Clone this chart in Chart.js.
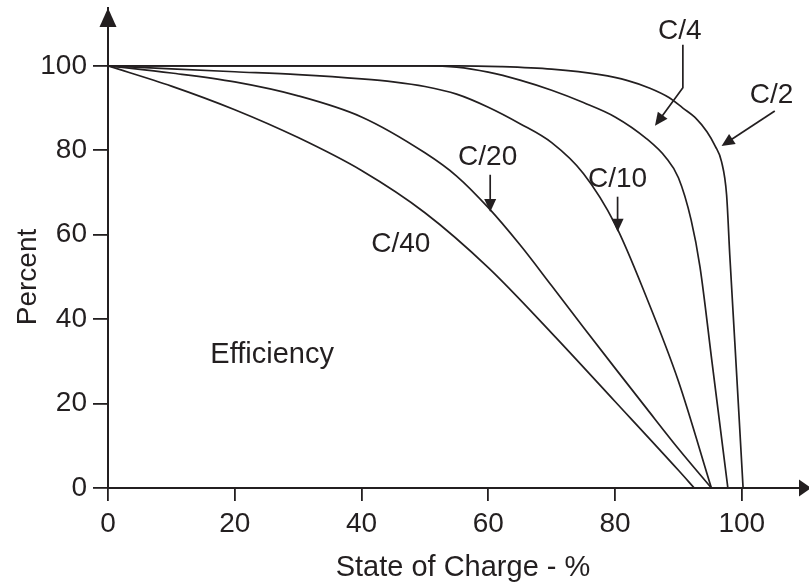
<!DOCTYPE html>
<html>
<head>
<meta charset="utf-8">
<script src="https://cdn.jsdelivr.net/npm/chart.js@4.4.0/dist/chart.umd.min.js"></script>
<style>
  html, body { margin: 0; padding: 0; background: #fff; }
  #wrap { width: 809px; height: 585px; }
</style>
</head>
<body>
<div id="wrap"><canvas id="effChart" width="809" height="585"></canvas></div>
<script>
// Charge efficiency vs state of charge, per charge rate
const c40X = [0, 10, 20, 30, 40, 50, 60, 70, 80, 90, 92.5];
const c40Y = [100, 95.2, 89.6, 83.0, 75.2, 65.2, 52.2, 36.7, 20.5, 4.2, 0];

const c20X = [0, 10, 20, 30, 40, 50, 55, 60, 65, 70, 75, 80, 85, 90, 95.2];
const c20Y = [100, 98.3, 96.2, 92.9, 87.9, 79.4, 73.9, 66.4, 57.6, 47.9, 38.1, 28.4, 18.8, 9.3, 0];

const c10X = [0, 10, 20, 30, 40, 45, 50, 55, 60, 65, 70, 75, 80, 85, 90, 95.2];
const c10Y = [100, 99.3, 98.6, 97.9, 96.9, 96.2, 95.1, 93.3, 90.2, 86.3, 81.8, 74.5, 62.5, 45, 25.3, 0];

const c4X = [0, 20, 40, 50, 55, 60, 65, 70, 75, 80, 85, 88, 90, 92, 93.4, 95.3, 97.8];
const c4Y = [100, 100, 100, 100, 99.7, 98.5, 96.6, 94.2, 91.3, 87.9, 82.7, 78.3, 73.5, 63.5, 52.4, 29.8, 0];

const c2X = [0, 20, 40, 55, 62, 70, 77.6, 82, 85.5, 88.5, 90.7, 92.8, 94.5, 95.8, 96.8, 97.6, 98.1, 98.9, 99.6, 100.2];
const c2Y = [100, 100, 100, 100, 99.8, 99.2, 97.9, 96.5, 94.7, 92.5, 90, 87.5, 84.4, 81, 77.3, 69.4, 55.2, 34.4, 16, 0];

const xTicks = [0, 20, 40, 60, 80, 100];
const yTicks = [0, 20, 40, 60, 80, 100];

// curve labels (data coords)
const curveLabels = [
    { text: 'C/4', x: 90.2, y: 108.1 },
    { text: 'C/2', x: 104.7, y: 93.1 },
    { text: 'C/20', x: 59.9, y: 78.4 },
    { text: 'C/10', x: 80.4, y: 73.2 },
    { text: 'C/40', x: 46.2, y: 57.8 },
    { text: 'Efficiency', x: 25.9, y: 31.5 }
];

// pointer arrows (data coords, last point is the tip)
const pointers = [
    [[90.7, 105], [90.7, 94.8], [86.3, 85.8]],
    [[105.2, 89.3], [96.8, 81]],
    [[60.3, 74.2], [60.3, 65.4]],
    [[80.4, 69], [80.4, 60.7]]
];

const ink = '#231f20';
const FONT = 'Liberation Sans, Arial, Helvetica, sans-serif';

function toPts(xs, ys) {
    return xs.map((x, i) => ({ x: x, y: ys[i] }));
}

function curve(label, xs, ys) {
    return {
        label: label,
        data: toPts(xs, ys),
        showLine: true,
        borderColor: ink,
        borderWidth: 1.7,
        pointRadius: 0,
        cubicInterpolationMode: 'monotone',
        fill: false
    };
}

function arrowHead(ctx, fx, fy, tx, ty, len, half) {
    const a = Math.atan2(ty - fy, tx - fx);
    ctx.beginPath();
    ctx.moveTo(tx, ty);
    ctx.lineTo(tx - len * Math.cos(a) + half * Math.sin(a), ty - len * Math.sin(a) - half * Math.cos(a));
    ctx.lineTo(tx - len * Math.cos(a) - half * Math.sin(a), ty - len * Math.sin(a) + half * Math.cos(a));
    ctx.closePath();
    ctx.fill();
}

// axis arrows, titles, curve labels and pointers
const extras = {
    id: 'extras',
    afterDraw(chart) {
        const ctx = chart.ctx;
        const xs = chart.scales.x, ys = chart.scales.y;
        const area = chart.chartArea;
        ctx.save();
        ctx.fillStyle = ink;
        ctx.strokeStyle = ink;

        // axis arrow heads
        arrowHead(ctx, area.left, area.bottom, area.left, area.top, 19, 8.5);
        arrowHead(ctx, area.left, area.bottom, area.right + 2, area.bottom, 12, 8.5);

        ctx.textAlign = 'center';
        ctx.textBaseline = 'middle';

        // y axis title
        ctx.font = '28px ' + FONT;
        ctx.save();
        ctx.translate(28, 277);
        ctx.rotate(-Math.PI / 2);
        ctx.fillText('Percent', 0, 0);
        ctx.restore();

        // x axis title
        ctx.font = '29px ' + FONT;
        ctx.fillText('State of Charge - %', 463, 568);

        // curve labels
        curveLabels.forEach(l => {
            ctx.font = (l.text === 'Efficiency' ? '29px ' : '28px ') + FONT;
            ctx.fillText(l.text, xs.getPixelForValue(l.x), ys.getPixelForValue(l.y));
        });

        // pointers
        ctx.lineWidth = 1.7;
        pointers.forEach(p => {
            const px = p.map(q => [xs.getPixelForValue(q[0]), ys.getPixelForValue(q[1])]);
            const n = px.length;
            const a = Math.atan2(px[n - 1][1] - px[n - 2][1], px[n - 1][0] - px[n - 2][0]);
            ctx.beginPath();
            ctx.moveTo(px[0][0], px[0][1]);
            for (let i = 1; i < n - 1; i++) ctx.lineTo(px[i][0], px[i][1]);
            ctx.lineTo(px[n - 1][0] - 10 * Math.cos(a), px[n - 1][1] - 10 * Math.sin(a));
            ctx.stroke();
            arrowHead(ctx, px[n - 2][0], px[n - 2][1], px[n - 1][0], px[n - 1][1], 13, 6);
        });
        ctx.restore();
    }
};

new Chart(document.getElementById('effChart'), {
    type: 'scatter',
    data: {
        datasets: [
            curve('C/40', c40X, c40Y),
            curve('C/20', c20X, c20Y),
            curve('C/10', c10X, c10Y),
            curve('C/4', c4X, c4Y),
            curve('C/2', c2X, c2Y)
        ]
    },
    options: {
        responsive: false,
        animation: false,
        events: [],
        layout: { padding: { top: 8, right: 0, left: 0, bottom: 0 } },
        plugins: {
            legend: { display: false },
            tooltip: { enabled: false }
        },
        scales: {
            x: {
                type: 'linear',
                min: 0,
                max: 110.6,
                afterBuildTicks: s => { s.ticks = xTicks.map(v => ({ value: v })); },
                afterFit: s => { s.height = 97; s.paddingLeft = 0; s.paddingRight = 0; },
                grid: { drawOnChartArea: false, tickLength: 13, color: ink, lineWidth: 1.8 },
                border: { color: ink, width: 2 },
                ticks: {
                    color: ink,
                    font: { family: FONT, size: 28 },
                    padding: 6,
                    maxRotation: 0,
                    autoSkip: false
                }
            },
            y: {
                type: 'linear',
                min: 0,
                max: 113.7,
                afterBuildTicks: s => { s.ticks = yTicks.map(v => ({ value: v })); },
                afterFit: s => { s.width = 108; s.paddingTop = 0; s.paddingBottom = 0; },
                grid: { drawOnChartArea: false, tickLength: 15, color: ink, lineWidth: 1.8 },
                border: { color: ink, width: 2 },
                ticks: {
                    color: ink,
                    font: { family: FONT, size: 28 },
                    padding: 6,
                    autoSkip: false
                }
            }
        }
    },
    plugins: [extras]
});
</script>
</body>
</html>
